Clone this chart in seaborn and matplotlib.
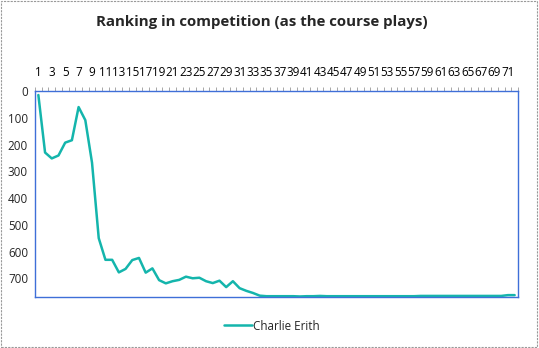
import matplotlib
matplotlib.use("Agg")
import matplotlib.pyplot as plt
import seaborn as sns
import pandas as pd
from matplotlib.patches import Rectangle

sns.set_style("white")
plt.rcParams['font.family'] = ['Open Sans', 'DejaVu Sans']

title = "Ranking in competition (as the course plays)"
series_name = "Charlie Erith"
holes = list(range(1, 73))
ranking = [15, 230, 252, 241, 193, 184, 60, 109, 268, 550,
           631, 631, 678, 665, 632, 624, 679, 663, 707, 719,
           711, 706, 694, 700, 698, 711, 718, 709, 733, 711,
           737, 747, 755, 765, 767, 767, 767, 767, 767, 768,
           767, 767, 766, 767, 767, 767, 767, 767, 767, 767,
           767, 767, 767, 767, 767, 767, 767, 766, 766, 766,
           766, 766, 766, 766, 766, 766, 766, 766, 766, 766,
           763, 763]
y_ticks = [0, 100, 200, 300, 400, 500, 600, 700]

df = pd.DataFrame({"hole": holes, "rank": ranking, "player": series_name})

fig = plt.figure(figsize=(5.39, 3.48), dpi=100)
ax = fig.add_axes([35/539, 1-297/348, (518-35)/539, (297-91)/348])

line_color = "#14B5AC"
sns.lineplot(data=df, x="hole", y="rank", hue="player", palette=[line_color],
             linewidth=1.8, ax=ax)

ax.set_xlim(0.5, 72.5)
ax.set_ylim(770, 0)
ax.xaxis.tick_top()
ax.set_xticks(holes[::2])
ax.set_xticklabels([str(h) for h in holes[::2]])
ax.set_xticks([h + 0.5 for h in range(0, 73)], minor=True)
ax.tick_params(axis='x', which='major', length=0, pad=9, labelsize=8.4, colors='black')
ax.tick_params(axis='x', which='minor', length=3, width=0.6, color='#999999', direction='out')
ax.set_yticks(y_ticks)
ax.tick_params(axis='y', which='major', length=3, width=0.6, color='#999999', labelsize=8.4, pad=2)
ax.set_xlabel("")
ax.set_ylabel("")
for s in ax.spines.values():
    s.set_visible(True)
    s.set_color("#3F6FD8")
    s.set_linewidth(1.0)

leg = ax.legend(loc='center', bbox_to_anchor=(272/539, 1-326/348),
                bbox_transform=fig.transFigure, frameon=False, fontsize=8.4,
                handlelength=2.4, handletextpad=0.1)

fig.text(262/539, 1-22/348, title, ha='center', va='center', fontsize=10.8,
         fontweight='bold')

fig.patches.append(Rectangle((0.002, 0.003), 0.995, 0.994, transform=fig.transFigure,
                             fill=False, edgecolor='#999999', linestyle=(0, (2, 1)),
                             linewidth=0.8))

fig.savefig("out.png", dpi=100)
